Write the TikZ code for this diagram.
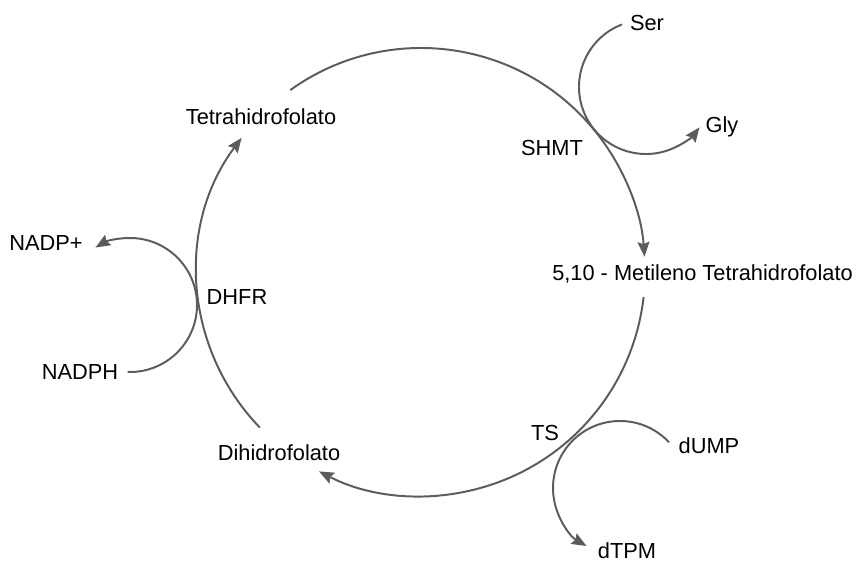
\documentclass[tikz,border=0pt]{standalone}
\usepackage{fontspec}
\setmainfont{Liberation Sans}
\usepackage{tikz}
\usetikzlibrary{arrows.meta,calc}

\begin{document}
\begin{tikzpicture}[x=0.025cm,y=0.025cm,
  pfeil/.style={draw=black!64,line width=1.4pt,-{Stealth[length=10.5pt,width=8.5pt,inset=1.5pt]}},
  txt/.style={inner sep=0pt,text=black,font=\fontsize{15.5}{18}\selectfont}]
\useasboundingbox (0,0) rectangle (856,564);
%Radien: grosser Kreis und die drei kleinen Boegen
  \pgfmathsetmacro{\R}{224}
  \pgfmathsetmacro{\rk}{67}
  \coordinate (M) at (421,292);
  \coordinate (MS) at (646,477);
  \coordinate (MT) at (620,76);
  \coordinate (MD) at (130,259);
\node[txt] (thf) at (261,447) {Tetrahidrofolato};
\node[txt] (shmt) at (552,416) {SHMT};
\node[txt,anchor=west] (mthf) at (552,290) {5,10 - Metileno Tetrahidrofolato};
\node[txt] (ser) at (647,541) {Ser};
\node[txt] (gly) at (722,437) {Gly};
\node[txt] (nadpplus) at (46,321) {NADP+};
\node[txt] (dhfr) at (237,267) {DHFR};
\node[txt] (nadph) at (80,192) {NADPH};
\node[txt] (dhf) at (279,111) {Dihidrofolato};
\node[txt] (ts) at (545,131) {TS};
\node[txt] (dump) at (709,118) {dUMP};
\node[txt] (dtpm) at (627,13) {dTPM};
%Kreislauf, im Uhrzeigersinn
\foreach \a/\b in {125.7/3.9,-6.4/-117.1,224/143.2}{
\draw[pfeil] ($(M)+(\a:\R)$) arc[start angle=\a,end angle=\b,radius=\R];
}
%Nebenreaktionen
\draw[pfeil] ($(MS)+(111:\rk)$) arc[start angle=111,end angle=323,radius=\rk];
\draw[pfeil] ($(MD)+(-92:\rk)$) arc[start angle=-92,end angle=121,radius=\rk];
\draw[pfeil] ($(MT)+(43:\rk)$) arc[start angle=43,end angle=240,radius=\rk];
\end{tikzpicture}
\end{document}
